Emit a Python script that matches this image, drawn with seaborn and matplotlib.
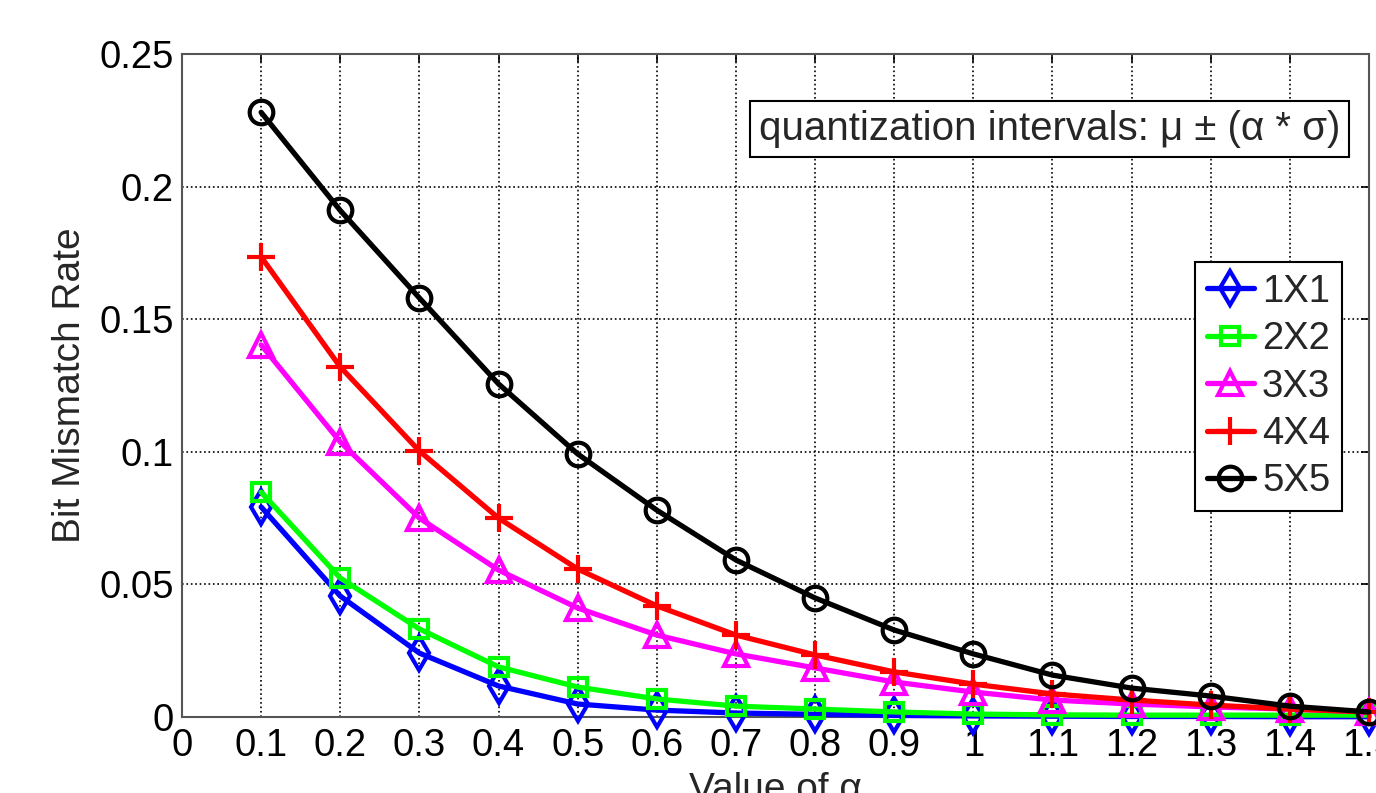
import numpy as np
import pandas as pd
import matplotlib
matplotlib.use("Agg")
import matplotlib.pyplot as plt
import seaborn as sns

alpha = [0.1, 0.2, 0.3, 0.4, 0.5, 0.6, 0.7, 0.8, 0.9, 1.0, 1.1, 1.2, 1.3, 1.4, 1.5]
s1x1 = [0.0792, 0.0456, 0.0241, 0.0117, 0.0049, 0.0026, 0.0015, 0.0010, 0.0006, 0.0004, 0.0003, 0.0002, 0.0002, 0.0001, 0.0001]
s2x2 = [0.0848, 0.0524, 0.0332, 0.0189, 0.0113, 0.0068, 0.0041, 0.0030, 0.0019, 0.0011, 0.0008, 0.0007, 0.0007, 0.0007, 0.0007]
s3x3 = [0.1403, 0.1037, 0.0750, 0.0554, 0.0411, 0.0309, 0.0238, 0.0185, 0.0132, 0.0094, 0.0064, 0.0049, 0.0038, 0.0030, 0.0019]
s4x4 = [0.1735, 0.1320, 0.1003, 0.0750, 0.0558, 0.0419, 0.0309, 0.0234, 0.0170, 0.0124, 0.0087, 0.0064, 0.0045, 0.0030, 0.0019]
s5x5 = [0.2280, 0.1910, 0.1580, 0.1256, 0.0992, 0.0780, 0.0592, 0.0449, 0.0328, 0.0238, 0.0158, 0.0109, 0.0079, 0.0041, 0.0019]

series_names = ["1X1", "2X2", "3X3", "4X4", "5X5"]
series_vals = [s1x1, s2x2, s3x3, s4x4, s5x5]
colors = ["#0000ff", "#00ff00", "#ff00ff", "#ff0000", "#000000"]
markers = ["d", "s", "^", "+", "o"]
msizes = [17, 13, 17, 20, 17]

xticks = [0, 0.1, 0.2, 0.3, 0.4, 0.5, 0.6, 0.7, 0.8, 0.9, 1.0, 1.1, 1.2, 1.3, 1.4, 1.5]
xticklabels = ["0", "0.1", "0.2", "0.3", "0.4", "0.5", "0.6", "0.7", "0.8", "0.9", "1", "1.1", "1.2", "1.3", "1.4", "1.5"]
yticks = [0, 0.05, 0.1, 0.15, 0.2, 0.25]
yticklabels = ["0", "0.05", "0.1", "0.15", "0.2", "0.25"]

sns.set_style("white")
plt.rcParams['font.family'] = ['Liberation Sans', 'DejaVu Sans']

fig = plt.figure(figsize=(13.76, 7.93), dpi=100)
ax = fig.add_axes([182/1376, 1 - 717/793, (1369-182)/1376, (717-54)/793])

df = pd.DataFrame({"alpha": alpha * 5,
                   "val": sum(series_vals, []),
                   "series": sum([[n]*len(alpha) for n in series_names], [])})

for name, c, m, ms in zip(series_names, colors, markers, msizes):
    sub = df[df["series"] == name]
    sns.lineplot(data=sub, x="alpha", y="val", ax=ax, color=c, marker=m,
                 markersize=ms, markerfacecolor="none", markeredgecolor=c,
                 markeredgewidth=3, linewidth=3.8, label=name, clip_on=False,
                 zorder=3)

ax.set_xlim(0, 1.5)
ax.set_ylim(0, 0.25)
ax.set_xticks(xticks)
ax.set_xticklabels(xticklabels)
ax.set_yticks(yticks)
ax.set_yticklabels(yticklabels)
ax.tick_params(axis='both', direction='in', length=6, labelsize=27.5, width=1.2,
               top=True, right=True, colors='#000000')
ax.tick_params(axis='x', pad=8)
ax.tick_params(axis='y', pad=6)
ax.grid(True, linestyle=':', color='black', linewidth=1.2)
for s in ax.spines.values():
    s.set_color('#555555')
    s.set_linewidth(1.5)

ax.set_ylabel("Bit Mismatch Rate", fontsize=28, labelpad=8)
ax.set_xlabel("Value of α", fontsize=28, labelpad=6)

ax.text(0.9755, 0.887, "quantization intervals: μ ± (α * σ)",
        transform=ax.transAxes, ha='right', va='center', fontsize=29,
        bbox=dict(boxstyle='square,pad=0.22', facecolor='white', edgecolor='black', linewidth=1.5),
        zorder=5)

leg = ax.legend(loc='upper right', bbox_to_anchor=(0.977, 0.686), fontsize=27.5,
                frameon=True, fancybox=False, edgecolor='black', framealpha=1,
                handlelength=1.25, handletextpad=0.2, borderpad=0.3, labelspacing=0.3,
                borderaxespad=0)
leg.get_frame().set_linewidth(1.5)
leg.set_zorder(6)

fig.savefig("out.png", dpi=100)
